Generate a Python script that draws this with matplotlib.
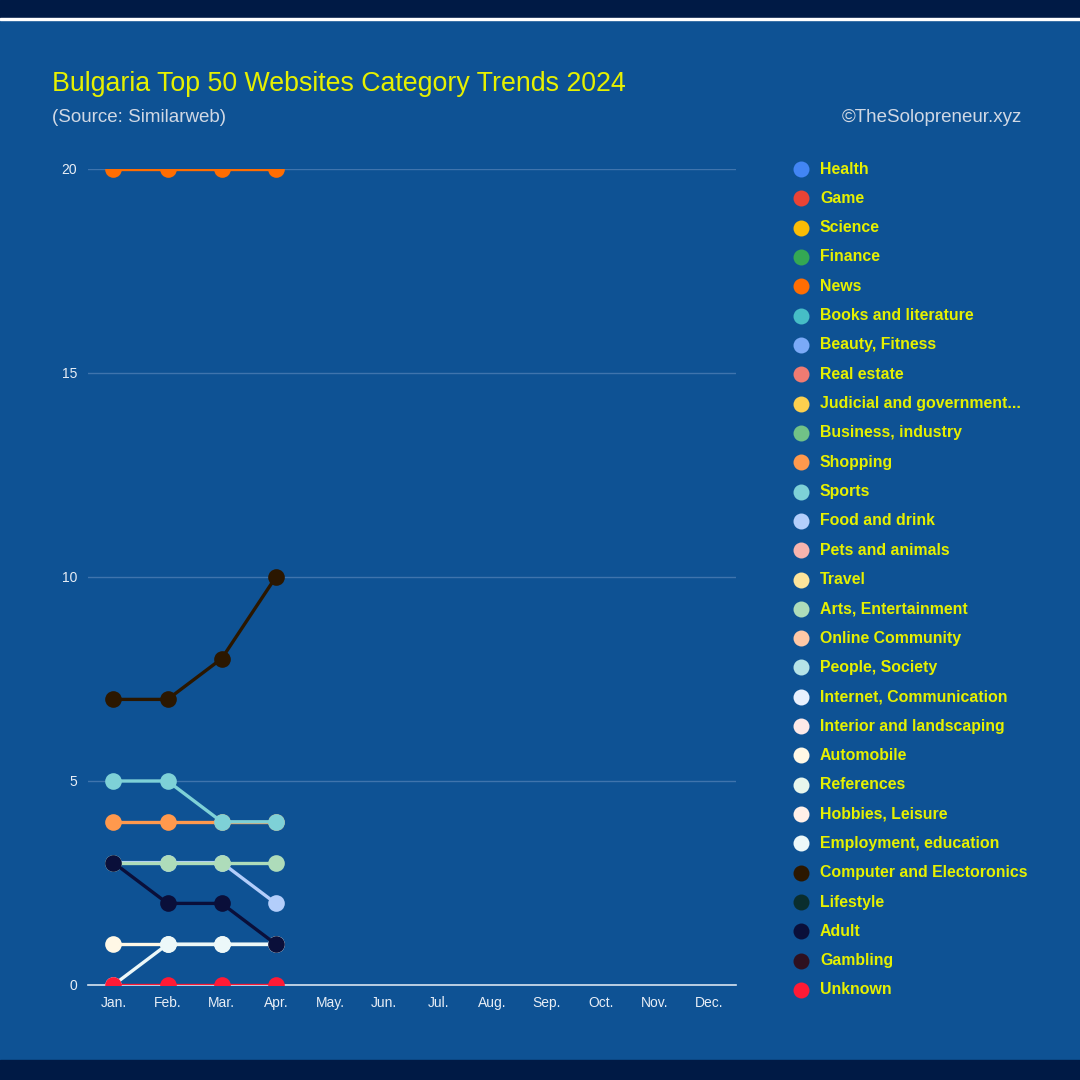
import matplotlib
matplotlib.use('Agg')
import matplotlib.pyplot as plt
from matplotlib.lines import Line2D
import numpy as np

plt.rcParams['font.family'] = ['Liberation Sans', 'DejaVu Sans']

# months and categories
months = ['Jan.', 'Feb.', 'Mar.', 'Apr.', 'May.', 'Jun.', 'Jul.', 'Aug.', 'Sep.', 'Oct.', 'Nov.', 'Dec.']
categories = ['Health', 'Game', 'Science', 'Finance', 'News', 'Books and literature',
              'Beauty, Fitness', 'Real estate', 'Judicial and government...', 'Business, industry',
              'Shopping', 'Sports', 'Food and drink', 'Pets and animals', 'Travel',
              'Arts, Entertainment', 'Online Community', 'People, Society',
              'Internet, Communication', 'Interior and landscaping', 'Automobile', 'References',
              'Hobbies, Leisure', 'Employment, education', 'Computer and Electoronics',
              'Lifestyle', 'Adult', 'Gambling', 'Unknown']
colors = ['#4285f4', '#ea4335', '#fbbc04', '#34a853', '#ff6d01', '#46bdc6',
          '#7baaf7', '#f07b72', '#fcd04f', '#71c287', '#ff994d', '#7ed1d7',
          '#b3cefb', '#f7b4ae', '#fde49b', '#aedcba', '#ffc8a6', '#b5e3e7',
          '#e8f0fe', '#fde9e8', '#fff8e6', '#e7f6ec', '#fff0e9', '#ecf8f9',
          '#2b1700', '#0a2e2e', '#0a0f3a', '#2e1020', '#ff1a35']

# number of sites per category (Jan..Apr)
news = [20, 20, 20, 20]
shopping = [4, 4, 4, 4]
sports = [5, 5, 4, 4]
food = [3, 3, 3, 2]
arts = [3, 3, 3, 3]
automobile = [1, 1, 1, 1]
employment = [0, 1, 1, 1]
computer = [7, 7, 8, 10]
adult = [3, 2, 2, 1]
unknown = [0, 0, 0, 0]

series = {'News': news, 'Shopping': shopping, 'Sports': sports, 'Food and drink': food,
          'Arts, Entertainment': arts, 'Automobile': automobile,
          'Employment, education': employment, 'Computer and Electoronics': computer,
          'Adult': adult, 'Unknown': unknown}

bg = '#0e5294'
fig = plt.figure(figsize=(10.8, 10.8), dpi=100, facecolor=bg)

# top and bottom bands
fig.patches.append(plt.Rectangle((0, 1 - 18 / 1080), 1, 18 / 1080, transform=fig.transFigure,
                                 color='#001a45', zorder=0))
fig.patches.append(plt.Rectangle((0, 1 - 20 / 1080), 1, 2 / 1080, transform=fig.transFigure,
                                 color='white', zorder=0))
fig.patches.append(plt.Rectangle((0, 0), 1, 20 / 1080, transform=fig.transFigure,
                                 color='#001a45', zorder=0))

ax = fig.add_axes([88 / 1080, 1 - 985 / 1080, (736 - 88) / 1080, (985 - 169) / 1080])
ax.set_facecolor(bg)
x = np.arange(len(months))
for name, col in zip(categories, colors):
    if name not in series:
        continue
    vals = series[name]
    ln, = ax.plot(x[:len(vals)], vals, color=col, lw=2.4, marker='o', markersize=12,
                  markeredgewidth=0, zorder=3)
    # clip markers at the plot edges (half circles at 0 and 20)
    ln.set_clip_path(ax.patch)

ax.set_xlim(-0.47, 11.5)
ax.set_ylim(0, 20)
ax.set_xticks(x)
ax.set_xticklabels(months)
ax.set_yticks([0, 5, 10, 15, 20])
ax.tick_params(colors='#e8eef6', labelsize=10, length=0, pad=8)
ax.grid(axis='y', color='#3f74ad', lw=1)
ax.set_axisbelow(True)
for s in ['top', 'right', 'left']:
    ax.spines[s].set_visible(False)
ax.spines['bottom'].set_color('#d8e4f0')
ax.spines['bottom'].set_linewidth(1.2)
ax.spines['bottom'].set_zorder(2)

# titles
fig.text(52 / 1080, 1 - 84 / 1080, 'Bulgaria Top 50 Websites Category Trends 2024',
         color='#e6f000', fontsize=19.3, va='center', ha='left')
fig.text(52 / 1080, 1 - 117 / 1080, '(Source: Similarweb)', color='#d0d8e4',
         fontsize=13.5, va='center', ha='left')
fig.text(1022 / 1080, 1 - 117 / 1080, '©TheSolopreneur.xyz', color='#d0d8e4',
         fontsize=13.5, va='center', ha='right')

# legend
step = (990 - 169) / (len(categories) - 1)
for i, (name, col) in enumerate(zip(categories, colors)):
    yy = 1 - (169 + i * step) / 1080
    fig.add_artist(Line2D([801 / 1080], [yy], marker='o', markersize=11.5, color=col,
                          markeredgewidth=0, transform=fig.transFigure))
    fig.text(820 / 1080, yy, name, color='#e6f000', fontsize=11.4, fontweight='bold',
             va='center', ha='left')

fig.savefig('out.png', dpi=100, facecolor=bg)
